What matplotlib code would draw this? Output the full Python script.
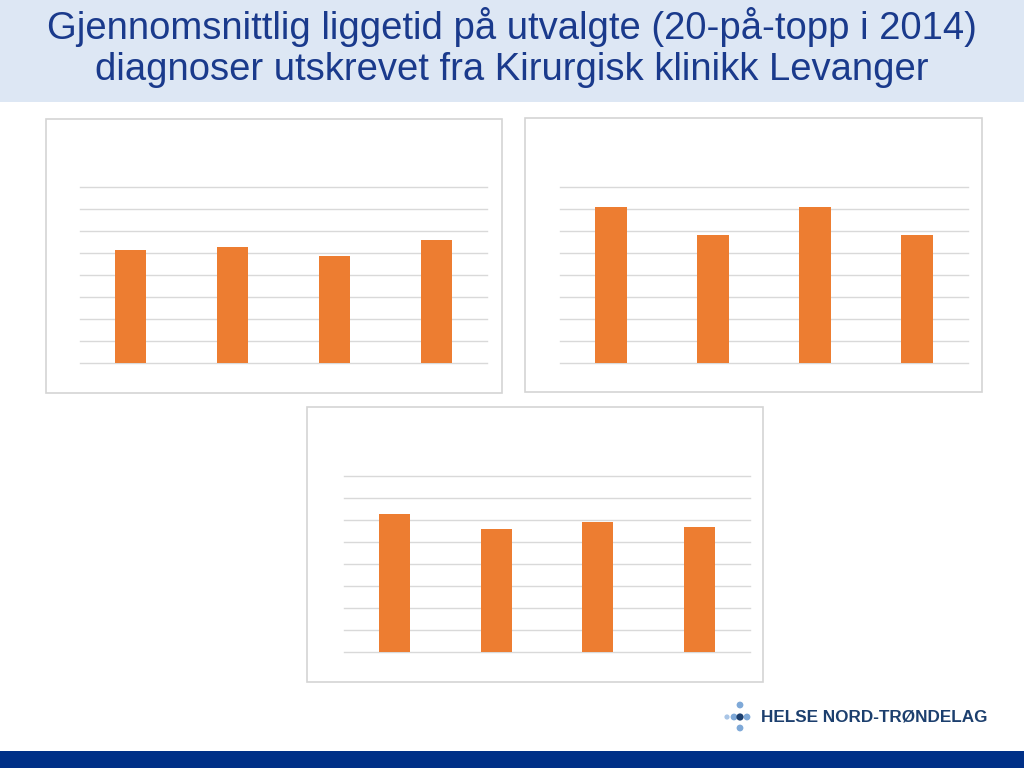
import matplotlib.pyplot as plt
from matplotlib.patches import Rectangle, Ellipse

# data (arbitrary units read off the gridlines, no axis labels in the source)
categories = ["A", "B", "C", "D"]
panel1 = [5.15, 5.29, 4.88, 5.59]
panel2 = [7.08, 5.80, 7.08, 5.80]
panel3 = [6.27, 5.60, 5.89, 5.66]

title_lines = ["Gjennomsnittlig liggetid på utvalgte (20-på-topp i 2014)",
               "diagnoser utskrevet fra Kirurgisk klinikk Levanger"]
logo_text = "HELSE NORD-TRØNDELAG"

W, H = 1024, 768
bar_color = '#ED7D31'
grid_color = '#d9d9d9'

plt.rcParams['font.family'] = ['Liberation Sans', 'DejaVu Sans']
fig = plt.figure(figsize=(W / 100, H / 100), dpi=100)


def rect(x0, y0, x1, y1):
    # pixel box (top-left origin) -> figure fraction
    return [x0 / W, 1 - y1 / H, (x1 - x0) / W, (y1 - y0) / H]


# title band
fig.patches.append(Rectangle((0, 1 - 102 / H), 1, 102 / H, transform=fig.transFigure,
                             facecolor='#dde7f4', edgecolor='none', zorder=-2))
for line, base in zip(title_lines, [39, 80]):
    fig.text(0.5, 1 - base / H, line, ha='center', va='baseline', fontsize=27.5,
             color='#1a3a8c')

# bottom bar
fig.patches.append(Rectangle((0, 0), 1, 17 / H, transform=fig.transFigure,
                             facecolor='#003087', edgecolor='none', zorder=-2))

# logo
for (dx, dy, c, s) in [(727, 717, '#a9c5e6', 2.6), (734, 717, '#7fa9d8', 3.4),
                       (747, 717, '#7fa9d8', 3.4), (740, 705, '#7fa9d8', 3.4),
                       (740, 728, '#7fa9d8', 3.4), (740, 717, '#1c3f6e', 3.6)]:
    fig.patches.append(Ellipse((dx / W, 1 - dy / H), 2 * s / W, 2 * s / H,
                               transform=fig.transFigure, facecolor=c, edgecolor='none'))
fig.text(761 / W, 1 - 717 / H, logo_text, ha='left', va='center', fontsize=12.3,
         fontweight='bold', color='#1c3f6e')

# panels: outer frame box, plot box
panels = [
    (panel1, (46, 119, 502, 393), (80, 187, 487, 363)),
    (panel2, (525, 118, 982, 392), (560, 187, 968, 363)),
    (panel3, (307, 407, 763, 682), (344, 476, 750, 652)),
]

for values, frame, box in panels:
    x0, y0, x1, y1 = frame
    fig.patches.append(Rectangle((x0 / W, 1 - y1 / H), (x1 - x0) / W, (y1 - y0) / H,
                                 transform=fig.transFigure, facecolor='white',
                                 edgecolor='#d4d4d4', linewidth=1.2, zorder=-1))
    ax = fig.add_axes(rect(*box))
    ax.patch.set_visible(False)
    ax.bar(range(len(categories)), values, width=0.305, color=bar_color, zorder=3)
    ax.set_xlim(-0.5, len(categories) - 0.5)
    ax.set_ylim(0, 8)
    ax.set_yticks(range(9))
    ax.set_xticks([])
    ax.tick_params(left=False, labelleft=False)
    ax.grid(axis='y', color=grid_color, linewidth=1, zorder=0)
    for sp in ax.spines.values():
        sp.set_visible(False)
    for gl in ax.get_ygridlines():
        gl.set_clip_on(False)

plt.savefig('out.png', dpi=100)
